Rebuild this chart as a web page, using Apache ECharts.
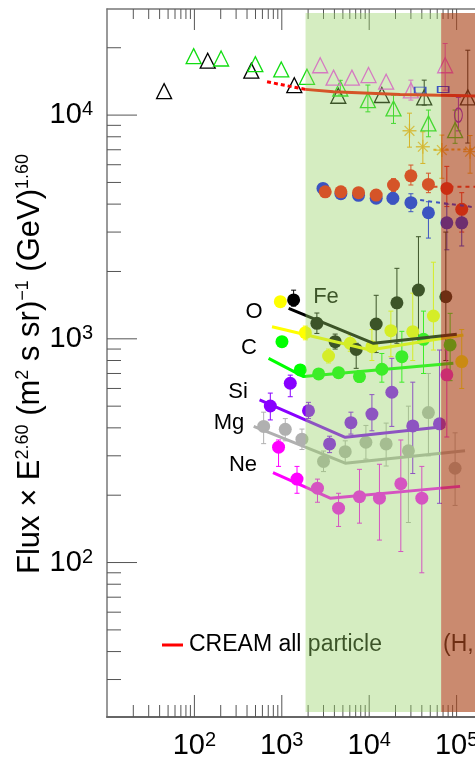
<!DOCTYPE html>
<html><head><meta charset="utf-8">
<script src="https://cdn.jsdelivr.net/npm/echarts@6/dist/echarts.min.js"></script>
<style>html,body{margin:0;padding:0;background:#fff}#c{width:475px;height:765px}</style>
</head><body><div id="c"></div>
<script>
// ---------- axis ticks / labels ----------
const xTickLabels = [100, 1000, 10000, 100000];
const yTickLabels = [100, 1000, 10000];
const xMinorTicks = [20,30,40,50,60,70,80,90,200,300,400,500,600,700,800,900,2000,3000,4000,5000,6000,7000,8000,9000,20000,30000,40000,50000,60000,70000,80000,90000,200000,300000,400000,500000,600000,700000,800000,900000];
const yMinorTicks = [30,40,50,60,70,80,90,200,300,400,500,600,700,800,900,2000,3000,4000,5000,6000,7000,8000,9000,20000];

// ---------- shaded energy bands ----------
const bandGreen = [1870, 66500];
const bandBrown = [66500, 1000000];
const bandY = [21.5, 28600];

// ---------- open triangles / other top experiments ----------
const triBlackE = [45, 142, 448, 1390, 4430, 13960, 42600, 134300];
const triBlackF = [12800, 17500, 15800, 13600, 12200, 12300, 12000, 12000];
const triBlackLo = [null, null, null, null, null, null, 11080, 7500];
const triBlackHi = [null, null, null, null, null, null, 14330, 19500];

const triGreenE = [98, 202, 498, 986, 1940, 4670, 9660, 18970, 47600, 96100];
const triGreenF = [18350, 17900, 16900, 16000, 14830, 13150, 11670, 10710, 9180, 8570];
const triGreenLo = [null, null, null, null, null, 12300, 10340, 9180, 8000, 7480];
const triGreenHi = [null, null, null, null, null, 14300, 13620, 12280, 10530, 10530];

const triPinkE = [2750, 3910, 6340, 9820, 15630, 30000, 74000];
const triPinkF = [16700, 14700, 14700, 15100, 14100, 12900, 16700];
const triPinkLo = [null, null, null, null, null, 11670, 12930];
const triPinkHi = [null, null, null, null, null, 14330, 20900];

const blueSqE = [38300, 70200];
const blueSqF = [12930, 13000];

const starE = [28900, 41100, 67800, 142600];
const starF = [8510, 7220, 6980, 6860];
const starLo = [7190, 6080, 5220, 5500];
const starHi = [10200, 8420, 8140, 8100];
const starLineE = [54300, 300000];
const starLineF = [7000, 7050];

const ovalE = [104800];
const ovalF = [10000];
const ovalLo = [8500];
const ovalHi = [12000];

// CREAM all particle
const creamDotE = [678, 1860];
const creamDotF = [14090, 13030];
const creamE = [1860, 3910, 22600, 130900, 300000];
const creamF = [13030, 12710, 12370, 12200, 12150];

// H (red) and He (blue)
const hE = [3140, 4740, 7550, 12020, 18970, 30000, 47600, 77300, 114500];
const hF = [4540, 4540, 4500, 4390, 4870, 5350, 4900, 4700, 3790];
const hLo = [4300, 4300, 4260, 4150, 4550, 4870, 4500, 3900, 3000];
const hHi = [4800, 4800, 4750, 4650, 5200, 5980, 5500, 5900, 4500];
const hLineE = [44000, 300000];
const hLineF = [4780, 4780];

const heE = [2960, 4740, 7550, 12020, 18660, 30000, 47600, 77300, 114500];
const heF = [4700, 4450, 4380, 4250, 4250, 4060, 3660, 3300, 3300];
const heLo = [4500, 4250, 4180, 4050, 4000, 3700, 2820, 2500, 2600];
const heHi = [4900, 4650, 4580, 4450, 4500, 4450, 4100, 4000, 4000];
const heLineE = [38300, 300000];
const heLineF = [4170, 3750];

// heavy nuclei
const feE = [1365, 2520, 4080, 7100, 12020, 20750, 36600, 75300];
const feF = [1493, 1173, 971, 897, 1165, 1449, 1652, 1542];
const feLo = [1400, 1057, 900, 738, 868, 955, 955, 800];
const feHi = [1650, 1304, 1050, 955, 1565, 2066, 2860, 3000];
const feLineE = [1197, 11200, 100500];
const feLineF = [1369, 955, 1048];

const oE = [962, 1860, 3430, 6070, 10740, 17700, 31500, 54300, 114500];
const oF = [1466, 1065, 838, 955, 922, 1088, 1076, 1265, 791];
const oLo = [1400, 990, 780, 880, 800, 832, 800, 891, 600];
const oHi = [1540, 1140, 900, 1040, 1100, 1330, 1600, 2200, 1100];
const oLineE = [773, 10260, 119700];
const oLineF = [1133, 891, 1040];

const cE = [1004, 1626, 2640, 4460, 7740, 13960, 23650, 41800, 84300];
const cF = [971, 726, 697, 706, 678, 731, 832, 995, 939];
const cLo = [930, 690, 665, 670, 640, 640, 640, 700, 650];
const cHi = [1010, 765, 730, 745, 720, 860, 1080, 1330, 1300];
const cLineE = [706, 1775, 91800];
const cLineF = [818, 678, 778];

const siE = [739, 1250, 2020, 3520, 6180, 10740, 18150, 31500, 63700];
const siF = [501, 633, 477, 339, 422, 461, 577, 408, 417];
const siLo = [434, 551, 440, 310, 375, 388, 406, 250, 184];
const siHi = [572, 688, 520, 367, 470, 563, 818, 640, 891];
const siLineE = [557, 5320, 74000];
const siLineF = [533, 363, 406];

const mgE = [620, 1096, 1700, 3000, 5320, 9170, 15630, 28100, 47600, 96100];
const mgF = [406, 394, 356, 283, 313, 345, 339, 316, 468, 264];
const mgLo = [340, 350, 320, 255, 280, 290, 270, 151, 300, 180];
const mgHi = [470, 440, 395, 315, 350, 410, 420, 500, 700, 380];
const mgLineE = [477, 5320, 125000];
const mgLineF = [406, 278, 316];

const neE = [918, 1493, 2560, 4460, 7740, 13100, 23000, 40000, 77300];
const neF = [328, 236, 215, 175, 197, 194, 225, 194, 690];
const neLo = [269, 204, 186, 145, 150, 126, 112, 90, 364];
const neHi = [353, 269, 236, 204, 261, 275, 353, 269, 891];
const neLineE = [793, 3580, 109600];
const neLineF = [252, 194, 219];

// ---------- chart ----------
const X_MIN = 10, X_MAX = 1000000, Y_MIN = 20.4, Y_MAX = 29800;
const FONT = '"Liberation Sans", Arial, sans-serif';

const zip = (a, b) => a.map((v, i) => [v, b[i]]);
const zipErr = (e, lo, hi) => e.map((v, i) => [v, lo[i], hi[i]]).filter(d => d[1] != null);

function errRender(color) {
  return function (params, api) {
    const x = api.value(0), lo = api.value(1), hi = api.value(2);
    const a = api.coord([x, lo]), b = api.coord([x, hi]);
    const c = 2.5;
    const st = {stroke: color, lineWidth: 1};
    return {type: 'group', children: [
      {type: 'line', shape: {x1: a[0], y1: a[1], x2: b[0], y2: b[1]}, style: st},
      {type: 'line', shape: {x1: a[0] - c, y1: a[1], x2: a[0] + c, y2: a[1]}, style: st},
      {type: 'line', shape: {x1: b[0] - c, y1: b[1], x2: b[0] + c, y2: b[1]}, style: st}
    ]};
  };
}
function errSeries(e, lo, hi, color) {
  return {type: 'custom', data: zipErr(e, lo, hi), encode: {x: 0, y: [1, 2]}, renderItem: errRender(color), z: 2, silent: true};
}
function dotSeries(e, f, color, size) {
  return {type: 'scatter', data: zip(e, f), symbol: 'circle', symbolSize: size || 13,
    itemStyle: {color: color, opacity: 1}, z: 3, silent: true};
}
function openSeries(e, f, color, symbol, size) {
  return {type: 'scatter', data: zip(e, f), symbol: symbol, symbolSize: size,
    itemStyle: {color: 'rgba(0,0,0,0)', borderColor: color, borderWidth: 1.3, opacity: 1}, z: 3, silent: true};
}
function lineSeries(e, f, color, width, type) {
  return {type: 'line', data: zip(e, f), symbol: 'none', smooth: false,
    lineStyle: {color: color, width: width, type: type || 'solid'}, z: 4, silent: true};
}

const supRich = (big, small) => ({
  b: {fontSize: big, fontFamily: FONT, color: '#000', lineHeight: big + 2},
  s: {fontSize: small, fontFamily: FONT, color: '#000', verticalAlign: 'top', lineHeight: small}
});
function powLabel(list) {
  return function (v) {
    for (const t of list) {
      if (Math.abs(v - t) / t < 1e-6) return '{b|10}{s|' + Math.round(Math.log10(t)) + '}';
    }
    return '';
  };
}

function tickRender(orient) {
  return function (params, api) {
    const v = api.value(orient === 'y' ? 1 : 0);
    const major = orient === 'y' ? yTickLabels.indexOf(v) >= 0 : xTickLabels.indexOf(v) >= 0;
    let shape;
    if (orient === 'y') {
      const p = api.coord([X_MIN, v]);
      shape = {x1: p[0], y1: p[1], x2: p[0] + (major ? 30 : 14), y2: p[1]};
    } else if (orient === 'bottom') {
      const p = api.coord([v, Y_MIN]);
      shape = {x1: p[0], y1: p[1], x2: p[0], y2: p[1] - (major ? 22 : 12)};
    } else {
      const p = api.coord([v, Y_MAX]);
      shape = {x1: p[0], y1: p[1], x2: p[0], y2: p[1] + (major ? 21 : 10)};
    }
    return {type: 'line', shape: shape, style: {stroke: '#555', lineWidth: 1}};
  };
}
const xAllTicks = xMinorTicks.concat(xTickLabels);
const yAllTicks = yMinorTicks.concat(yTickLabels);

const bandStyles = ['rgba(150,210,100,0.40)', 'rgba(172,72,30,0.64)'];
const bands = [[bandGreen[0], bandGreen[1], bandY[0], bandY[1]], [bandBrown[0], bandBrown[1], bandY[0], bandY[1]]];

const series = [
  {type: 'custom', data: yAllTicks.map(v => [X_MIN, v]), encode: {x: 0, y: 1}, renderItem: tickRender('y'), z: 1, silent: true, clip: false},
  {type: 'custom', data: xAllTicks.map(v => [v, Y_MIN]), encode: {x: 0, y: 1}, renderItem: tickRender('bottom'), z: 1, silent: true, clip: false},
  {type: 'custom', data: xAllTicks.map(v => [v, Y_MAX]), encode: {x: 0, y: 1}, renderItem: tickRender('top'), z: 1, silent: true, clip: false},

  errSeries(triBlackE, triBlackLo, triBlackHi, '#000'),
  errSeries(triGreenE, triGreenLo, triGreenHi, '#11dd11'),
  errSeries(triPinkE, triPinkLo, triPinkHi, '#ff40ff'),
  errSeries(starE, starLo, starHi, '#ffa000'),
  errSeries(ovalE, ovalLo, ovalHi, '#8000ff'),
  errSeries(hE, hLo, hHi, '#ff0000'),
  errSeries(heE, heLo, heHi, '#0000ff'),
  errSeries(feE, feLo, feHi, '#000'),
  errSeries(oE, oLo, oHi, '#ffff00'),
  errSeries(cE, cLo, cHi, '#00ff00'),
  errSeries(siE, siLo, siHi, '#8800ff'),
  errSeries(mgE, mgLo, mgHi, '#b0b0b0'),
  errSeries(neE, neLo, neHi, '#ff00ff'),

  lineSeries(creamDotE, creamDotF, '#ff0000', 3, [4, 3]),
  lineSeries(creamE, creamF, '#ff0000', 3),
  lineSeries(starLineE, starLineF, '#ffa000', 2, [3, 3]),
  openSeries(triBlackE, triBlackF, '#000', 'triangle', 15),
  openSeries(triGreenE, triGreenF, '#11dd11', 'triangle', 15),
  openSeries(triPinkE, triPinkF, '#ff40ff', 'triangle', 15),
  openSeries(blueSqE, blueSqF, '#0000ff', 'rect', [11, 6]),
  openSeries(ovalE, ovalF, '#8000ff', 'circle', [8, 14]),
  {type: 'scatter', data: zip(starE, starF), symbol: 'path://M10,0L10,20M0,10L20,10M3,3L17,17M3,17L17,3', symbolSize: 14,
    itemStyle: {color: 'rgba(0,0,0,0)', borderColor: '#ffa000', borderWidth: 1.3}, z: 3, silent: true},

  dotSeries(heE, heF, '#0000ff', 13),
  dotSeries(hE, hF, '#ff0000', 13),
  lineSeries(hLineE, hLineF, '#ff0000', 2, [4, 4]),
  lineSeries(heLineE, heLineF, '#0000ff', 2, [4, 4]),

  dotSeries(neE, neF, '#ff00ff'),
  dotSeries(mgE, mgF, '#b0b0b0'),
  dotSeries(siE, siF, '#8800ff'),
  dotSeries(cE, cF, '#00ff00'),
  dotSeries(oE, oF, '#ffff00'),
  dotSeries(feE, feF, '#000000'),
  lineSeries(neLineE, neLineF, '#ff00ff', 3),
  lineSeries(mgLineE, mgLineF, '#b0b0b0', 3),
  lineSeries(siLineE, siLineF, '#8800ff', 3),
  lineSeries(cLineE, cLineF, '#00ff00', 3),
  lineSeries(oLineE, oLineF, '#ffff00', 3),
  lineSeries(feLineE, feLineF, '#000000', 3),

  {type: 'custom', data: bands, encode: {x: [0, 1], y: [2, 3]}, z: 20, silent: true, clip: false,
    renderItem: function (params, api) {
      const p0 = api.coord([api.value(0), api.value(3)]);
      const p1 = api.coord([api.value(1), api.value(2)]);
      return {type: 'rect', shape: {x: p0[0], y: p0[1], width: p1[0] - p0[0], height: p1[1] - p0[1]},
        style: {fill: bandStyles[params.dataIndex]}};
    }}
];

const labelFont = '22px ' + FONT;
const textEl = (t, x, y, align, font) => ({type: 'text', x: x, y: y, z: 1,
  style: {text: t, font: font || labelFont, fill: '#000', align: align || 'center', verticalAlign: 'middle',
    textAlign: align || 'center', textVerticalAlign: 'middle'}});

const option = {
  animation: false,
  backgroundColor: '#fff',
  grid: {left: 107, top: 9, right: -69, bottom: 48, containLabel: false, outerBoundsMode: 'none'},
  xAxis: [
    {type: 'log', logBase: 10, min: X_MIN, max: X_MAX, position: 'bottom',
      axisLine: {show: true, lineStyle: {color: '#666', width: 2}},
      axisTick: {show: false}, splitLine: {show: false}, minorTick: {show: false},
      axisLabel: {show: true, margin: 13, formatter: powLabel(xTickLabels), rich: supRich(29, 20)}},
    {type: 'log', logBase: 10, min: X_MIN, max: X_MAX, position: 'top',
      axisLine: {show: true, lineStyle: {color: '#777', width: 1.5}},
      axisTick: {show: false}, splitLine: {show: false}, axisLabel: {show: false}}
  ],
  yAxis: [
    {type: 'log', logBase: 10, min: Y_MIN, max: Y_MAX,
      axisLine: {show: true, lineStyle: {color: '#777', width: 1.5}},
      axisTick: {show: false}, splitLine: {show: false}, minorTick: {show: false},
      axisLabel: {show: true, margin: 14, formatter: powLabel(yTickLabels), rich: supRich(29, 20)}}
  ],
  graphic: {elements: [
    {type: 'text', x: 30, y: 364, rotation: Math.PI / 2, z: 1,
      style: {text: '{b|Flux × E}{s|2.60}{b| (m}{s|2}{b| s sr)}{s|−1}{b| (GeV)}{s|1.60}',
        align: 'center', verticalAlign: 'middle', textAlign: 'center', textVerticalAlign: 'middle',
        rich: {
          b: {fontSize: 31, fontFamily: FONT, fill: '#000', color: '#000', lineHeight: 32},
          s: {fontSize: 18, fontFamily: FONT, fill: '#000', color: '#000', verticalAlign: 'top', lineHeight: 18}
        }}},
    textEl('Fe', 326, 297),
    textEl('O', 254, 312),
    textEl('C', 249, 348),
    textEl('Si', 238, 392),
    textEl('Mg', 229, 423),
    textEl('Ne', 243, 465),
    {type: 'line', shape: {x1: 162, y1: 645, x2: 183, y2: 645}, style: {stroke: '#ff0000', lineWidth: 3}, z: 1},
    textEl('CREAM all particle', 189, 645, 'left', '23px ' + FONT),
    textEl('(H,He)', 443, 645, 'left', '23px ' + FONT)
  ]},
  series: series
};

const chart = echarts.init(document.getElementById('c'), null, {renderer: 'canvas'});
chart.setOption(option);
</script></body></html>
